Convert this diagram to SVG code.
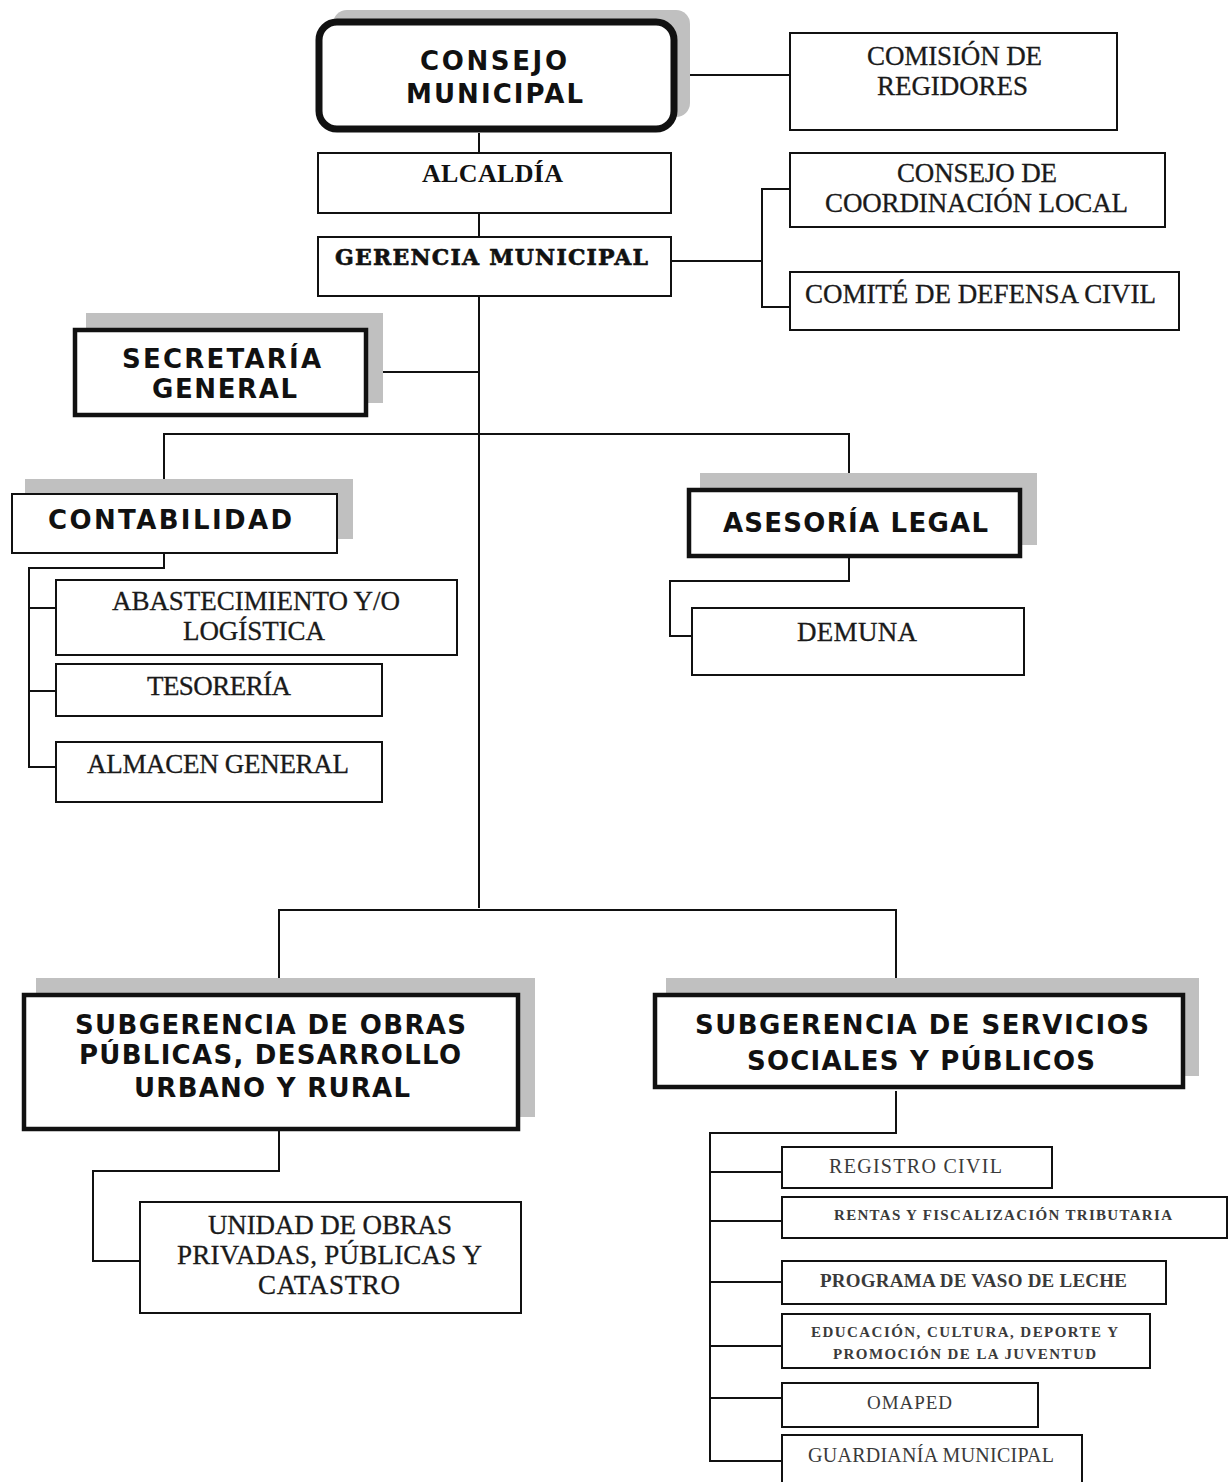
<svg xmlns="http://www.w3.org/2000/svg" width="1231" height="1482" viewBox="0 0 1231 1482">
  <style>
    .box { fill: #ffffff; stroke: #111111; stroke-width: 2; }
    .boxb { fill: #ffffff; stroke: #111111; stroke-width: 4.5; }
    .shadow { fill: #c0c0c0; stroke: none; }
    .wire { fill: none; stroke: #111111; stroke-width: 2; }
    .hd { font-family: "DejaVu Sans", Verdana, sans-serif; font-weight: bold; font-size: 26px; fill: #111111; }
    .sf { font-family: "Liberation Serif", "Times New Roman", serif; font-size: 27px; fill: #1a1a1a; stroke: #1a1a1a; stroke-width: 0.3; }
    .sfb { font-family: "Liberation Serif", "Times New Roman", serif; font-weight: bold; fill: #111111; }
    .sm { font-family: "Liberation Serif", "Times New Roman", serif; fill: #3a3a3a; }
  </style>
  <rect width="1231" height="1482" fill="#ffffff"/>

  <!-- connectors -->
  <g id="connectors" class="wire">
    <path d="M479 133 V153 M479 213 V237 M479 296 V908"/>
    <path d="M677 75 H790"/>
    <path d="M671 261 H762 M790 189 H762 V307 H790"/>
    <path d="M368 372 H479"/>
    <path d="M164 493 V434 H849 V488"/>
    <path d="M164 553 V568 H29 V767 H56 M29 608 H56 M29 691 H56"/>
    <path d="M849 558 V581 H670 V636 H692"/>
    <path d="M279 995 V910 H896 V995"/>
    <path d="M279 1130 V1171 H93 V1261 H140"/>
    <path d="M896 1091 V1133 H710 V1461 H782 M710 1172 H782 M710 1221 H782 M710 1282 H782 M710 1346 H782 M710 1398 H782"/>
  </g>

  <!-- top level -->
  <g id="consejo-municipal">
    <rect class="shadow" x="333" y="10" width="357" height="107" rx="14"/>
    <rect x="319" y="22" width="355" height="107" rx="18" fill="#ffffff" stroke="#111111" stroke-width="7"/>
    <text class="hd" x="420" y="70" textLength="147" lengthAdjust="spacing">CONSEJO</text>
    <text class="hd" x="406" y="103" textLength="177" lengthAdjust="spacing">MUNICIPAL</text>
  </g>

  <g id="comision-regidores">
    <rect class="box" x="790" y="33" width="327" height="97"/>
    <text class="sf" x="867" y="65" textLength="175" lengthAdjust="spacing">COMISIÓN DE</text>
    <text class="sf" x="877" y="95" textLength="151" lengthAdjust="spacing">REGIDORES</text>
  </g>

  <g id="alcaldia">
    <rect class="box" x="318" y="153" width="353" height="60"/>
    <text class="sfb" x="422" y="182" font-size="26" textLength="141" lengthAdjust="spacing">ALCALDÍA</text>
  </g>

  <g id="gerencia-municipal">
    <rect class="box" x="318" y="237" width="353" height="59"/>
    <text x="335" y="265" font-family="'DejaVu Serif', 'Liberation Serif', serif" font-weight="bold" font-size="22" fill="#111111" stroke="#111111" stroke-width="0.6" textLength="313" lengthAdjust="spacing">GERENCIA MUNICIPAL</text>
  </g>

  <g id="consejo-coordinacion">
    <rect class="box" x="790" y="153" width="375" height="74"/>
    <text class="sf" x="897" y="182" textLength="160" lengthAdjust="spacing">CONSEJO DE</text>
    <text class="sf" x="825" y="212" textLength="303" lengthAdjust="spacing">COORDINACIÓN LOCAL</text>
  </g>

  <g id="comite-defensa-civil">
    <rect class="box" x="790" y="272" width="389" height="58"/>
    <text class="sf" x="805" y="303" textLength="351" lengthAdjust="spacing">COMITÉ DE DEFENSA CIVIL</text>
  </g>

  <!-- staff and support -->
  <g id="secretaria-general">
    <rect class="shadow" x="86" y="313" width="297" height="90"/>
    <rect class="boxb" x="75" y="330" width="291" height="85"/>
    <text class="hd" x="122" y="368" textLength="199" lengthAdjust="spacing">SECRETARÍA</text>
    <text class="hd" x="152" y="398" textLength="145" lengthAdjust="spacing">GENERAL</text>
  </g>

  <g id="contabilidad">
    <rect class="shadow" x="25" y="479" width="328" height="60"/>
    <rect class="box" x="12" y="494" width="325" height="59"/>
    <text class="hd" x="48" y="529" textLength="244" lengthAdjust="spacing">CONTABILIDAD</text>
  </g>

  <g id="abastecimiento">
    <rect class="box" x="56" y="580" width="401" height="75"/>
    <text class="sf" x="112" y="610" textLength="288" lengthAdjust="spacing">ABASTECIMIENTO Y/O</text>
    <text class="sf" x="183" y="640" textLength="142" lengthAdjust="spacing">LOGÍSTICA</text>
  </g>

  <g id="tesoreria">
    <rect class="box" x="56" y="664" width="326" height="52"/>
    <text class="sf" x="147" y="695" textLength="144" lengthAdjust="spacing">TESORERÍA</text>
  </g>

  <g id="almacen-general">
    <rect class="box" x="56" y="742" width="326" height="60"/>
    <text class="sf" x="87" y="773" textLength="262" lengthAdjust="spacing">ALMACEN GENERAL</text>
  </g>

  <g id="asesoria-legal">
    <rect class="shadow" x="700" y="473" width="337" height="72"/>
    <rect class="boxb" x="689" y="490" width="331" height="66"/>
    <text class="hd" x="723" y="532" textLength="265" lengthAdjust="spacing">ASESORÍA LEGAL</text>
  </g>

  <g id="demuna">
    <rect class="box" x="692" y="608" width="332" height="67"/>
    <text class="sf" x="797" y="641" textLength="120" lengthAdjust="spacing">DEMUNA</text>
  </g>

  <!-- line management -->
  <g id="subgerencia-obras">
    <rect class="shadow" x="36" y="978" width="499" height="139"/>
    <rect class="boxb" x="24" y="995" width="494" height="134"/>
    <text class="hd" x="75" y="1034" textLength="391" lengthAdjust="spacing">SUBGERENCIA DE OBRAS</text>
    <text class="hd" x="79" y="1064" textLength="382" lengthAdjust="spacing">PÚBLICAS, DESARROLLO</text>
    <text class="hd" x="134" y="1097" textLength="276" lengthAdjust="spacing">URBANO Y RURAL</text>
  </g>

  <g id="unidad-obras">
    <rect class="box" x="140" y="1202" width="381" height="111"/>
    <text class="sf" x="208" y="1234" textLength="244" lengthAdjust="spacing">UNIDAD DE OBRAS</text>
    <text class="sf" x="177" y="1264" textLength="305" lengthAdjust="spacing">PRIVADAS, PÚBLICAS Y</text>
    <text class="sf" x="258" y="1294" textLength="142" lengthAdjust="spacing">CATASTRO</text>
  </g>

  <g id="subgerencia-servicios">
    <rect class="shadow" x="666" y="978" width="533" height="98"/>
    <rect class="boxb" x="655" y="995" width="528" height="92"/>
    <text class="hd" x="695" y="1034" textLength="454" lengthAdjust="spacing">SUBGERENCIA DE SERVICIOS</text>
    <text class="hd" x="747" y="1070" textLength="348" lengthAdjust="spacing">SOCIALES Y PÚBLICOS</text>
  </g>

  <g id="registro-civil">
    <rect class="box" x="782" y="1147" width="270" height="41"/>
    <text class="sm" x="829" y="1173" font-size="20" textLength="173" lengthAdjust="spacing">REGISTRO CIVIL</text>
  </g>

  <g id="rentas">
    <rect class="box" x="782" y="1197" width="445" height="41"/>
    <text class="sm" x="834" y="1220" font-size="15" font-weight="bold" textLength="338" lengthAdjust="spacing">RENTAS Y FISCALIZACIÓN TRIBUTARIA</text>
  </g>

  <g id="vaso-de-leche">
    <rect class="box" x="782" y="1261" width="384" height="43"/>
    <text class="sm" x="820" y="1287" font-size="19" font-weight="bold" textLength="307" lengthAdjust="spacing">PROGRAMA DE VASO DE LECHE</text>
  </g>

  <g id="educacion">
    <rect class="box" x="782" y="1314" width="368" height="54"/>
    <text class="sm" x="811" y="1337" font-size="15" font-weight="bold" textLength="307" lengthAdjust="spacing">EDUCACIÓN, CULTURA, DEPORTE Y</text>
    <text class="sm" x="833" y="1359" font-size="15" font-weight="bold" textLength="263" lengthAdjust="spacing">PROMOCIÓN DE LA JUVENTUD</text>
  </g>

  <g id="omaped">
    <rect class="box" x="782" y="1383" width="256" height="44"/>
    <text class="sm" x="867" y="1409" font-size="19" textLength="85" lengthAdjust="spacing">OMAPED</text>
  </g>

  <g id="guardiania">
    <rect class="box" x="782" y="1435" width="300" height="52"/>
    <text class="sm" x="808" y="1462" font-size="20" textLength="246" lengthAdjust="spacing">GUARDIANÍA MUNICIPAL</text>
  </g>
</svg>
